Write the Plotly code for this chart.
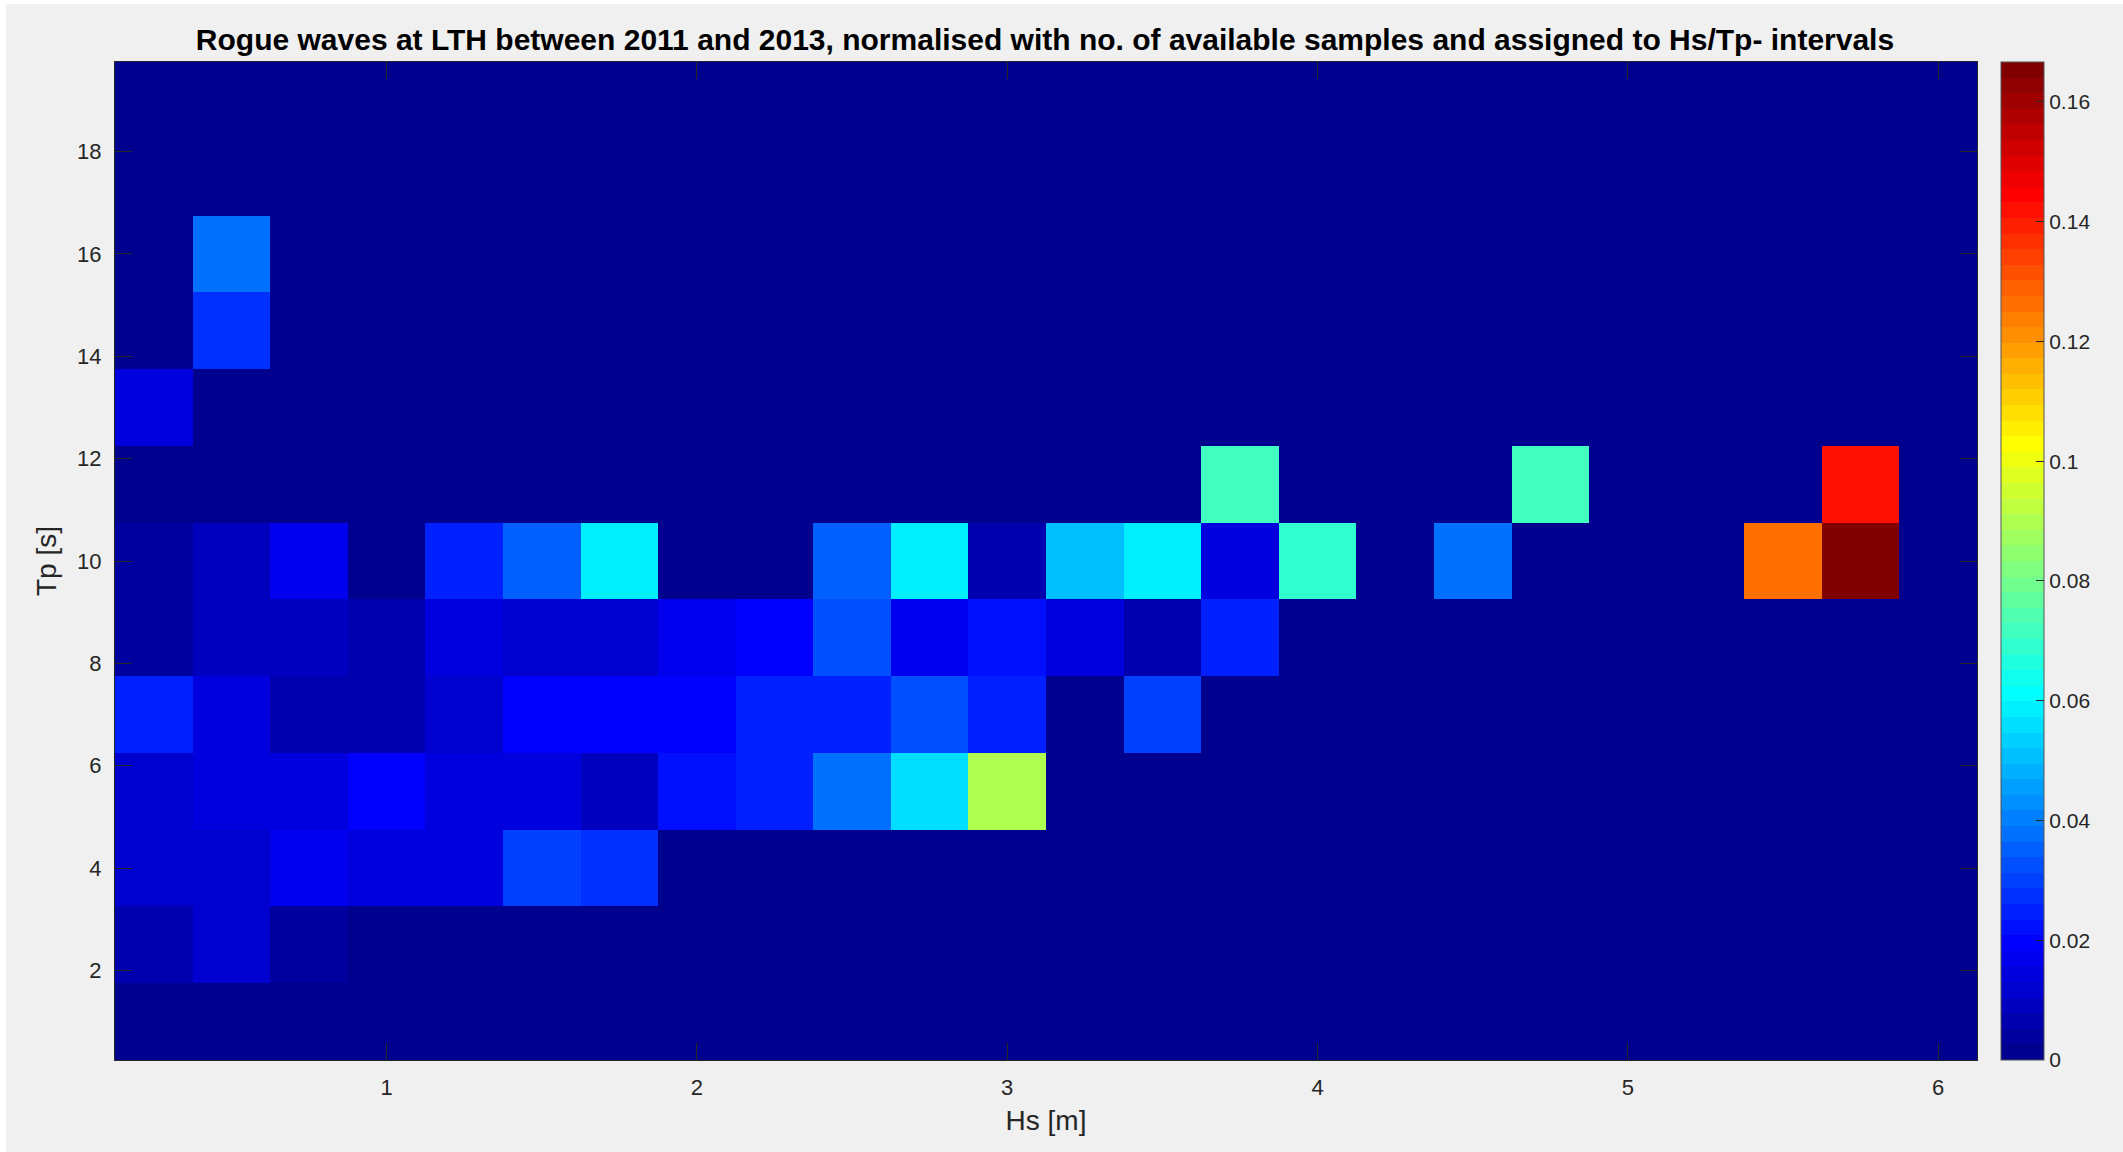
import numpy as np
import plotly.graph_objects as go

# ---------------- data ----------------
hs_centers = [0.25, 0.5, 0.75, 1.0, 1.25, 1.5, 1.75, 2.0, 2.25, 2.5, 2.75, 3.0,
              3.25, 3.5, 3.75, 4.0, 4.25, 4.5, 4.75, 5.0, 5.25, 5.5, 5.75, 6.0]
tp_centers = [1.0, 2.5, 4.0, 5.5, 7.0, 8.5, 10.0, 11.5, 13.0, 14.5, 16.0, 17.5, 19.0]

row_tp_1_0 = [0] * 24
row_tp_2_5 = [0.0065, 0.0117, 0.0039] + [0] * 21
row_tp_4_0 = [0.0130, 0.0130, 0.0169, 0.0143, 0.0143, 0.0299, 0.0286] + [0] * 17
row_tp_5_5 = [0.0130, 0.0143, 0.0143, 0.0195, 0.0143, 0.0143, 0.0091, 0.0221,
              0.0240, 0.0378, 0.0560, 0.0900] + [0] * 12
row_tp_7_0 = [0.0247, 0.0156, 0.0065, 0.0065, 0.0130, 0.0195, 0.0195, 0.0195,
              0.0235, 0.0235, 0.0330, 0.0247, 0, 0.0299] + [0] * 10
row_tp_8_5 = [0.0039, 0.0091, 0.0091, 0.0065, 0.0135, 0.0130, 0.0130, 0.0169,
              0.0195, 0.0326, 0.0169, 0.0221, 0.0156, 0.0078, 0.0247] + [0] * 9
row_tp_10_0 = [0.0039, 0.0091, 0.0182, 0, 0.0235, 0.0352, 0.0586, 0, 0, 0.0352,
               0.0586, 0.0078, 0.0508, 0.0586, 0.0156, 0.0690, 0, 0.0378, 0, 0,
               0, 0.1260, 0.1667, 0]
row_tp_11_5 = [0] * 14 + [0.0716, 0, 0, 0, 0.0716, 0, 0, 0, 0.1420, 0]
row_tp_13_0 = [0.0156] + [0] * 23
row_tp_14_5 = [0, 0.0273] + [0] * 22
row_tp_16_0 = [0, 0.0378] + [0] * 22
row_tp_17_5 = [0] * 24
row_tp_19_0 = [0] * 24

z_rows = [row_tp_1_0, row_tp_2_5, row_tp_4_0, row_tp_5_5, row_tp_7_0, row_tp_8_5,
          row_tp_10_0, row_tp_11_5, row_tp_13_0, row_tp_14_5, row_tp_16_0,
          row_tp_17_5, row_tp_19_0]

x_ticks = [1, 2, 3, 4, 5, 6]
y_ticks = [2, 4, 6, 8, 10, 12, 14, 16, 18]
cbar_ticks = [0, 0.02, 0.04, 0.06, 0.08, 0.1, 0.12, 0.14, 0.16]
cbar_labels = ["0", "0.02", "0.04", "0.06", "0.08", "0.1", "0.12", "0.14", "0.16"]
c_max = 1 / 6

title_text = ("Rogue waves at LTH between 2011 and 2013, normalised with no. of "
              "available samples and assigned to Hs/Tp- intervals")

# ---------------- MATLAB jet(64) colormap ----------------
def matlab_jet(m=64):
    n = int(np.ceil(m / 4))
    u = np.concatenate([np.arange(1, n + 1) / n, np.ones(n - 1), np.arange(n, 0, -1) / n])
    g = int(np.ceil(n / 2)) - (1 if m % 4 == 1 else 0) + np.arange(1, len(u) + 1)
    r = g + n
    b = g - n
    J = np.zeros((m, 3))
    for idxs, ch in ((r, 0), (g, 1), (b, 2)):
        for i, val in zip(idxs, u):
            if 1 <= i <= m:
                J[i - 1, ch] = val
    return J

J = matlab_jet(64)
colorscale = []
for k in range(64):
    c = "rgb(%d,%d,%d)" % tuple(int(round(v * 255)) for v in J[k])
    colorscale.append([k / 64, c])
    colorscale.append([(k + 1) / 64, c])

# ---------------- layout geometry ----------------
W, H = 2123, 1152
L, R, T, B = 115, 2123 - 1977, 62, 1152 - 1060
pw, ph = W - L - R, H - T - B

def px_x(px):
    return (px - L) / pw

def px_y(py):
    return (H - B - py) / ph

axis_col = "#262626"
font_fam = "Liberation Sans, Arial, Helvetica, sans-serif"

fig = go.Figure(go.Heatmap(
    x=hs_centers, y=tp_centers, z=z_rows,
    zmin=0, zmax=c_max, colorscale=colorscale, zsmooth=False,
    colorbar=dict(
        x=px_x(2001), xanchor="left", xpad=0, ypad=0,
        y=0.5, yanchor="middle", len=1, lenmode="fraction",
        thickness=43, thicknessmode="pixels",
        outlinewidth=1, outlinecolor="#555555",
        ticks="inside", ticklen=8, tickwidth=1, tickcolor=axis_col,
        tickvals=cbar_ticks, ticktext=cbar_labels,
        tickfont=dict(family=font_fam, size=21, color=axis_col),
    ),
))

fig.update_layout(
    width=W, height=H,
    margin=dict(l=L, r=R, t=T, b=B, pad=0),
    paper_bgcolor="white", plot_bgcolor="#00008F",
    title=dict(text="<b>" + title_text + "</b>", xref="container", x=1045 / W,
               xanchor="center", yref="container", y=1 - 39 / H, yanchor="middle",
               font=dict(family=font_fam, size=30, color="black")),
    font=dict(family=font_fam, color=axis_col),
    shapes=[dict(type="rect", xref="paper", yref="paper", layer="below",
                 x0=px_x(6), x1=px_x(W + 5), y0=px_y(4), y1=px_y(H + 5),
                 fillcolor="#F0F0F0", line=dict(width=0))],
)

fig.update_xaxes(
    range=[0.125, 6.125], tickvals=x_ticks, ticks="inside", ticklen=17, tickwidth=1,
    tickcolor=axis_col, showline=True, linecolor=axis_col, linewidth=1, mirror="ticks",
    showgrid=False, zeroline=False, ticklabelstandoff=8,
    tickfont=dict(family=font_fam, size=22, color=axis_col),
    title=dict(text="Hs [m]", standoff=10, font=dict(family=font_fam, size=28, color=axis_col)),
)
fig.update_yaxes(
    range=[0.25, 19.75], tickvals=y_ticks, ticks="inside", ticklen=17, tickwidth=1,
    tickcolor=axis_col, showline=True, linecolor=axis_col, linewidth=1, mirror="ticks",
    showgrid=False, zeroline=False, ticklabelstandoff=8,
    tickfont=dict(family=font_fam, size=22, color=axis_col),
    title=dict(text="Tp [s]", standoff=12, font=dict(family=font_fam, size=28, color=axis_col)),
)

fig.write_html("out.html", config={"displayModeBar": False},
               post_script="document.body.style.margin='0';")
